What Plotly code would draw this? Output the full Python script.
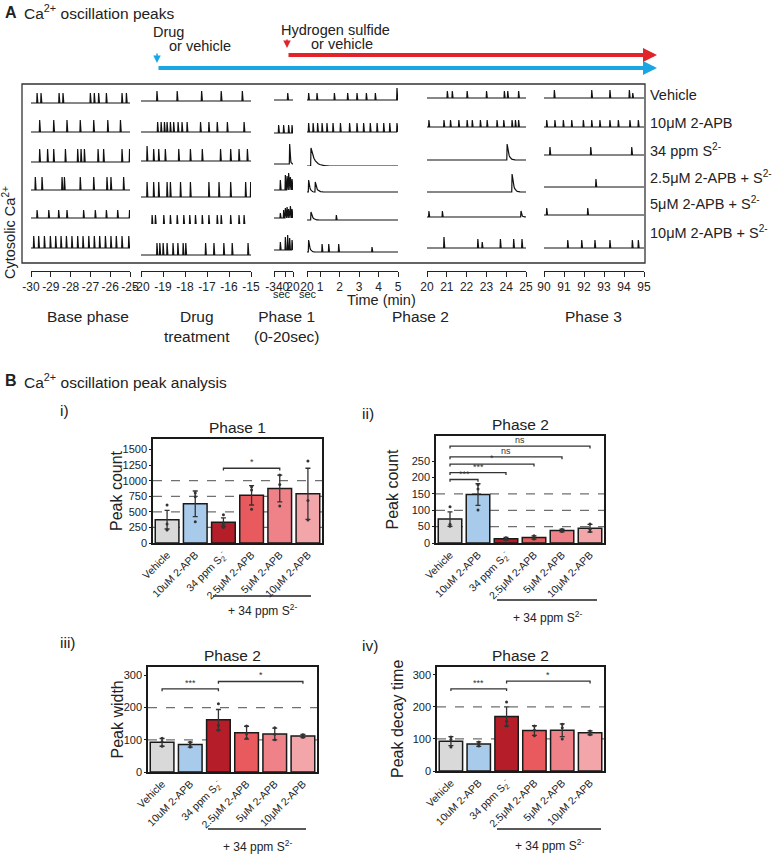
"""Ca2+ oscillation peaks: spike traces per phase (A) and peak analysis bars (B)."""

import math

import plotly.graph_objects as go

W, H = 780, 854
FONT = "Liberation Sans, Arial, sans-serif"

# ---------------------------------------------------------------- panel A data
ROW_LABELS = [
    "Vehicle",
    "10μM 2-APB",
    "34 ppm S<sup>2-</sup>",
    "2.5μM 2-APB + S<sup>2-</sup>",
    "5μM 2-APB + S<sup>2-</sup>",
    "10μM 2-APB + S<sup>2-</sup>",
]

SEGMENTS = ["base", "drug", "phase1", "phase2", "phase2b", "phase3"]
SEG_RANGES = {
    "base": (-30, -25),
    "drug": (-20, -15),
    "phase1": (-34, 20),       # seconds
    "phase2": (1 / 3, 5),      # 20 sec .. 5 min
    "phase2b": (20, 25),
    "phase3": (90, 95),
}
SEG_TICKVALS = {
    "base": [-30, -29, -28, -27, -26, -25],
    "drug": [-20, -19, -18, -17, -16, -15],
    "phase1": [-34, 0, 20],
    "phase2": [1 / 3, 1, 2, 3, 4, 5],
    "phase2b": [20, 21, 22, 23, 24, 25],
    "phase3": [90, 91, 92, 93, 94, 95],
}
SEG_TICKTEXT = {
    "base": ["-30", "-29", "-28", "-27", "-26", "-25"],
    "drug": ["-20", "-19", "-18", "-17", "-16", "-15"],
    "phase1": ["-34", "0", "20"],
    "phase2": ["20", "1", "2", "3", "4", "5"],
    "phase2b": ["20", "21", "22", "23", "24", "25"],
    "phase3": ["90", "91", "92", "93", "94", "95"],
}

# spike entries: time, or (time, amplitude, decay duration)
SPIKES_BASE = [
    [-29.71, -29.51, -28.60, -28.40, -27.02, -26.82, -26.60, -26.21, -25.42, -25.20],
    [-29.58, -28.87, -28.20, -27.53, -26.85, -26.14, -25.50],
    [-29.58, -29.18, -28.87, -28.28, -27.66, -27.49, -27.32, -26.63, -26.35, -25.42, -25.04],
    [-29.80, -29.46, -28.45, -28.33, -27.53, -26.85, -26.18, -25.98, -25.34],
    [-29.71, -29.12, -28.62, -28.20, -27.36, -26.77, -26.21, -25.64, -25.04],
    [-29.88, -29.63, -29.34, -29.04, -28.77, -28.50, -28.23, -27.95, -27.66,
     -27.39, -27.10, -26.82, -26.55, -26.26, -25.98, -25.71, -25.42, -25.08],
]
SPIKES_DRUG = [
    [-19.29, -18.37, -17.26, -16.37, -15.41],
    [-19.26, -19.10, -18.95, -18.83, -18.68, -18.53, -18.33, -18.15, -17.92,
     -17.31, -16.93, -16.55, -16.09, -15.33],
    [(-19.74, 1.5, 0), -19.44, -19.21, -18.91, -18.30, -17.77, -17.23, -16.40,
     -15.94, -15.56, -15.18],
    [-19.74, -19.44, -19.21, -18.83, -18.68, -18.22, -17.77, -16.93, -16.47,
     -15.94, -15.26, -15.03],
    [-19.51, -19.36, -18.98, -18.68, -18.37, -18.07, -17.80, -17.54, -17.23,
     -16.93, -16.55, -16.37, -15.94, -15.56, -15.33],
    [-19.29, -19.16, -19.01, -18.83, -18.56, -18.34, -18.10, -17.98, -17.08,
     -16.70, -16.25, -15.87, -15.15],
]
SPIKES_PHASE1 = [
    [(4.0, 0.7, 0)],
    [-21.8, -7.6, 6.6, 16.3],
    [(9.5, 2.0, 8.0)],
    [(-17, 1.0, 0), (-2.7, 1.5, 0), (2.1, 1.4, 0), (6.6, 1.7, 0), (11.5, 1.3, 0), (16.3, 1.1, 0)],
    [(-17, 0.5, 0), (-7.6, 0.8, 0), (-2.7, 1.0, 0), (2.1, 1.1, 0), (6.6, 0.9, 0),
     (11.5, 1.2, 0), (16.3, 0.9, 0)],
    [(-17, 0.8, 0), (-2.7, 1.3, 0), (3.8, 1.5, 0), (9.5, 1.2, 0), (16.3, 1.0, 0)],
]
SPIKES_PHASE2 = [
    [0.40, 0.83, 1.72, 2.40, 2.88, 3.36, 3.82, (4.93, 1.2, 0)],
    [0.40, 0.63, 0.86, 1.09, 1.34, 1.65, 2.03, 2.50, 2.88, 3.22, 3.56, 3.91, 4.25, 4.56, 4.93],
    [(0.52, 1.8, 0.9)],
    [(0.40, 1.2, 0.3), (0.74, 1.0, 0.4)],
    [(0.52, 0.8, 0.4), (1.82, 0.5, 0)],
    [(0.40, 1.2, 0.3), 1.09, 1.43, 1.94, (3.65, 0.5, 0)],
]
SPIKES_PHASE2B = [
    [21.01, 21.26, 22.01, 22.99, 23.89, 24.06, 24.61],
    [20.08, 20.84, 21.17, 21.59, 22.01, 22.27, 22.68, 23.02, 23.52, 23.86, 24.28, 24.45, 24.61],
    [(24.03, 1.6, 0.4)],
    [(24.28, 1.8, 0.4)],
    [20.08, 20.76, (24.73, 0.6, 0.2)],
    [(20.84, 1.1, 0), 22.55, (22.77, 0.6, 0), 23.69, 24.36, 24.78],
]
SPIKES_PHASE3 = [
    [90.50, 92.37, 93.28, 94.25, (94.42, 0.5, 0)],
    [90.12, 90.53, 90.95, 91.37, 91.95, 92.37, 92.78, 93.28, 93.70, 94.28, 94.70],
    [90.28, 92.32, 94.37],
    [92.58],
    [90.12, 92.17],
    [91.17, 91.87, 92.53, 93.28, 94.40, 94.70],
]
SPIKES = {
    "base": SPIKES_BASE, "drug": SPIKES_DRUG, "phase1": SPIKES_PHASE1,
    "phase2": SPIKES_PHASE2, "phase2b": SPIKES_PHASE2B, "phase3": SPIKES_PHASE3,
}
# default spike amplitude per segment and row (dF, arbitrary units)
SPIKE_AMP = {
    "base": [1.0, 1.2, 1.3, 1.3, 0.8, 1.2],
    "drug": [1.0, 1.0, 1.2, 1.5, 1.0, 1.2],
    "phase1": [1.0, 0.8, 2.0, 1.4, 1.0, 1.2],
    "phase2": [0.7, 0.9, 1.8, 1.2, 0.6, 0.8],
    "phase2b": [0.7, 0.7, 1.6, 1.8, 0.6, 0.9],
    "phase3": [0.8, 0.7, 0.8, 0.8, 0.7, 0.8],
}
# baseline level per segment and row
BASELINE = {
    "base": [0, 0, 0, 0, 0, 0],
    "drug": [0.2, 0, 0.1, -0.7, -0.7, -0.7],
    "phase1": [0.3, -0.1, -0.2, 0, 0, -0.2],
    "phase2": [0.3, 0, -0.4, -0.2, -0.2, -0.4],
    "phase2b": [0.5, 0.5, 0.2, -0.2, 0.1, 0],
    "phase3": [0.5, 0.5, 0.7, 0.3, 0.3, 0],
}

# ---------------------------------------------------------------- panel B data
CATEGORIES = ["Vehicle", "10uM 2-APB", "34 ppm S<sub>2</sub><sup>-</sup>",
              "2.5μM 2-APB", "5μM 2-APB", "10μM 2-APB"]
BAR_COLORS = ["#d9d9d9", "#a8cbeb", "#b51d29", "#e85a5d", "#ef8189", "#f3a6aa"]

P1_COUNT = [375, 630, 335, 765, 875, 790]
P1_COUNT_SD = [150, 205, 70, 155, 215, 410]
P1_COUNT_PTS = [[610, 306, 209], [343, 744, 803], [250, 300, 455],
                [540, 850, 905], [594, 939, 1092], [369, 684, 1317]]
P1_BRACKETS = [(2, 4, 1200, "*")]

P2_COUNT = [73, 148, 13, 17, 38, 45]
P2_COUNT_SD = [22, 33, 4, 5, 4, 12]
P2_COUNT_PTS = [[51, 57, 111], [101, 165, 178], [10, 13, 16],
                [12, 17, 22], [35, 38, 41], [35, 42, 58]]
P2_BRACKETS = [(0, 1, 194, "***"), (0, 2, 215, "***"), (0, 3, 241, "*"),
               (0, 4, 263, "ns"), (0, 5, 296, "ns")]

P2_WIDTH = [92, 85, 162, 122, 118, 112]
P2_WIDTH_SD = [12, 8, 32, 20, 18, 5]
P2_WIDTH_PTS = [[80, 95, 105], [78, 85, 92], [130, 145, 212],
                [105, 118, 143], [100, 117, 137], [108, 112, 116]]
P2_WIDTH_BRACKETS = [(0, 2, 258, "***"), (2, 5, 281, "*")]

P2_DECAY = [93, 84, 170, 126, 127, 119]
P2_DECAY_SD = [14, 7, 30, 15, 20, 6]
P2_DECAY_PTS = [[75, 98, 106], [78, 84, 90], [140, 155, 215],
                [110, 128, 140], [100, 135, 146], [113, 119, 125]]
P2_DECAY_BRACKETS = [(0, 2, 256, "***"), (2, 5, 280, "*")]


def fx(p):
    return p / W


def fy(p):
    return 1 - p / H


# pixel layout of panel A
SEG_DOMAIN_PX = {
    "base": (31, 130), "drug": (141, 251), "phase1": (274, 293),
    "phase2": (307, 398), "phase2b": (427, 526), "phase3": (544, 644),
}
ROW_BASE_PX = [103, 132, 162, 190, 218, 248]
ROW_RANGE = (-0.8, 2.4)   # 10 px per unit
AXIS_LINE_PX = 271


def trace_xy(spikes, amp0, base, t0, t1, unit):
    xs, ys = [t0], [base]
    for s in spikes:
        t, a, decay = s if isinstance(s, tuple) else (s, amp0, 0)
        xs += [t, t + 0.35 * unit]
        ys += [base, base + a]
        if decay:
            for k in range(1, 13):
                xs.append(t + 0.35 * unit + decay * k / 12)
                ys.append(base + a * math.exp(-5.0 * k / 12))
        else:
            xs.append(t + 1.1 * unit)
            ys.append(base)
    xs.append(t1)
    ys.append(base)
    return xs, ys


fig = go.Figure()
layout = {}

for si, seg in enumerate(SEGMENTS):
    t0, t1 = SEG_RANGES[seg]
    d0, d1 = SEG_DOMAIN_PX[seg]
    unit = (t1 - t0) / (d1 - d0)
    xname = "x" if si == 0 else f"x{si + 1}"
    for ri in range(6):
        xs, ys = trace_xy(SPIKES[seg][ri], SPIKE_AMP[seg][ri], BASELINE[seg][ri], t0, t1, unit)
        fig.add_trace(go.Scatter(
            x=xs, y=ys, mode="lines",
            line=dict(color="#111111", width=1.2),
            xaxis=xname, yaxis="y" if ri == 0 else f"y{ri + 1}",
            showlegend=False, hoverinfo="skip",
        ))
    layout["xaxis" if si == 0 else f"xaxis{si + 1}"] = dict(
        domain=[fx(d0), fx(d1)], range=[t0, t1], anchor="free", position=fy(AXIS_LINE_PX),
        tickvals=SEG_TICKVALS[seg], ticktext=SEG_TICKTEXT[seg], tickangle=0,
        ticks="outside", ticklen=5, tickwidth=1, tickcolor="#222",
        showline=True, linecolor="#222", linewidth=1, automargin=False,
        showgrid=False, zeroline=False, fixedrange=True,
        tickfont=dict(size=12, color="#222"),
    )

for ri, b in enumerate(ROW_BASE_PX):
    lo, hi = ROW_RANGE
    layout["yaxis" if ri == 0 else f"yaxis{ri + 1}"] = dict(
        domain=[fy(b - lo * 10), fy(b - hi * 10)], range=[lo, hi],
        anchor="free", position=0, visible=False, fixedrange=True, automargin=False,
    )

shapes = [dict(type="rect", xref="paper", yref="paper", x0=fx(22), x1=fx(645),
               y0=fy(263), y1=fy(84), line=dict(color="#333", width=1.3))]
annotations = []


def text(x, y, s, size, xanchor="left", yanchor="middle", **kw):
    annotations.append(dict(xref="paper", yref="paper", x=fx(x), y=fy(y), text=s,
                            showarrow=False, xanchor=xanchor, yanchor=yanchor,
                            font=dict(size=size, color="#222", family=FONT), **kw))


text(3, 12, "<b>A</b>", 16)
text(22, 12, "Ca<sup>2+</sup> oscillation peaks", 15.5)
text(151, 32, "Drug", 14.5)
text(167, 46, "or vehicle", 14.5)
text(279, 30, "Hydrogen sulfide", 14.5)
text(309, 44, "or vehicle", 14.5)

# treatment arrows
for (x0, y0, color) in [(157, 68, "#19a6e3"), (287, 55, "#e2242a")]:
    annotations.append(dict(xref="paper", yref="paper", x=fx(657), y=fy(y0), ax=x0 - 657, ay=0,
                            axref="pixel", ayref="pixel", text="", showarrow=True,
                            arrowhead=2, arrowsize=0.7, arrowwidth=4, arrowcolor=color))
for (x0, y0, y1, color) in [(157, 52, 63, "#19a6e3"), (287, 38, 48, "#e2242a")]:
    annotations.append(dict(xref="paper", yref="paper", x=fx(x0), y=fy(y1), ax=0, ay=y0 - y1,
                            text="", showarrow=True, arrowhead=2, arrowsize=1,
                            arrowwidth=1.5, arrowcolor=color))

for lab, y in zip(ROW_LABELS, [95, 123, 150, 177, 203, 232]):
    text(648, y, lab, 14.5)

text(9, 233, "Cytosolic Ca<sup>2+</sup>", 14.5, xanchor="center", textangle=-90)
text(282, 294, "sec", 11, xanchor="center")
text(308, 294, "sec", 11, xanchor="center")
text(381, 300, "Time (min)", 14.5, xanchor="center")
text(88, 316, "Base phase", 15.5, xanchor="center")
text(197, 326, "Drug<br>treatment", 15.5, xanchor="center")
text(286, 326, "Phase 1<br>(0-20sec)", 15.5, xanchor="center")
text(420, 316, "Phase 2", 15.5, xanchor="center")
text(593, 316, "Phase 3", 15.5, xanchor="center")

# ---------------------------------------------------------------- panel B
text(3, 381, "<b>B</b>", 16)
text(22, 381, "Ca<sup>2+</sup> oscillation peak analysis", 15.5)

PANELS = [
    dict(tag="i)", tag_xy=(58, 410), title="Phase 1", ytitle="Peak count",
         box=(153, 322, 439, 543), ymax=1670, yticks=[0, 250, 500, 750, 1000, 1250, 1500],
         dashes=[250, 500, 750, 1000], mean=P1_COUNT, sd=P1_COUNT_SD, pts=P1_COUNT_PTS,
         brackets=P1_BRACKETS, ytitle_x=116, rule=(213, 311, 596), rule_label_y=610),
    dict(tag="ii)", tag_xy=(360, 413), title="Phase 2", ytitle="Peak count",
         box=(436, 604, 436, 543), ymax=327, yticks=[0, 50, 100, 150, 200, 250],
         dashes=[50, 100, 150], mean=P2_COUNT, sd=P2_COUNT_SD, pts=P2_COUNT_PTS,
         brackets=P2_BRACKETS, ytitle_x=392, rule=(497, 597, 600), rule_label_y=617),
    dict(tag="iii)", tag_xy=(58, 642), title="Phase 2", ytitle="Peak width",
         box=(148, 317, 667, 772), ymax=326, yticks=[0, 100, 200, 300],
         dashes=[100, 200], mean=P2_WIDTH, sd=P2_WIDTH_SD, pts=P2_WIDTH_PTS,
         brackets=P2_WIDTH_BRACKETS, ytitle_x=117, rule=(208, 306, 829), rule_label_y=846),
    dict(tag="iv)", tag_xy=(360, 645), title="Phase 2", ytitle="Peak decay time",
         box=(437, 604, 667, 771), ymax=324, yticks=[0, 100, 200, 300],
         dashes=[100, 200], mean=P2_DECAY, sd=P2_DECAY_SD, pts=P2_DECAY_PTS,
         brackets=P2_DECAY_BRACKETS, ytitle_x=397, rule=(497, 601, 829), rule_label_y=845),
]

for pi, p in enumerate(PANELS):
    n = 7 + pi
    xa, ya = f"x{n}", f"y{n}"
    x0, x1, y0, y1 = p["box"]
    xs = list(range(len(CATEGORIES)))
    fig.add_trace(go.Bar(
        x=xs, y=p["mean"], width=0.84, xaxis=xa, yaxis=ya,
        marker=dict(color=BAR_COLORS, line=dict(color="#1a1a1a", width=1.5)),
        error_y=dict(type="data", array=p["sd"], color="#333", thickness=1.3, width=2.5),
        showlegend=False, hoverinfo="skip",
    ))
    px_, py_ = [], []
    for i, vals in enumerate(p["pts"]):
        px_ += [i] * len(vals)
        py_ += vals
    fig.add_trace(go.Scatter(x=px_, y=py_, mode="markers", xaxis=xa, yaxis=ya,
                             marker=dict(size=3, color="#333"), showlegend=False,
                             hoverinfo="skip"))
    drop = p["ymax"] * 0.022
    for (a, b, h, lab) in p["brackets"]:
        fig.add_trace(go.Scatter(x=[a, a, b, b], y=[h - drop, h, h, h - drop], mode="lines",
                                 xaxis=xa, yaxis=ya, line=dict(color="#333", width=1.3),
                                 showlegend=False, hoverinfo="skip"))
        annotations.append(dict(xref=xa, yref=ya, x=(a + b) / 2, y=h, text=lab,
                                showarrow=False, yanchor="bottom", yshift=-1,
                                font=dict(size=9, color="#333", family=FONT)))
    for d in p["dashes"]:
        shapes.append(dict(type="line", xref=f"{xa} domain", yref=ya, x0=0, x1=1, y0=d, y1=d,
                           layer="below", line=dict(color="#707070", width=1.3, dash="dash")))
    layout[f"xaxis{n}"] = dict(
        domain=[fx(x0), fx(x1)], anchor=ya, range=[-0.5, 5.5],
        tickvals=xs, ticktext=CATEGORIES, tickangle=-45, ticks="",
        tickfont=dict(size=10.5, color="#222"), automargin=False,
        showline=True, mirror=True, linecolor="#1a1a1a", linewidth=1.5,
        showgrid=False, zeroline=False, fixedrange=True,
    )
    layout[f"yaxis{n}"] = dict(
        domain=[fy(y1), fy(y0)], anchor=xa, range=[0, p["ymax"]],
        tickvals=p["yticks"], ticks="outside", ticklen=2, tickcolor="#1a1a1a",
        tickfont=dict(size=11, color="#222"), automargin=False,
        showline=True, mirror=True, linecolor="#1a1a1a", linewidth=1.5,
        showgrid=False, zeroline=False, fixedrange=True,
    )
    text((x0 + x1) / 2, y0 - 12, p["title"], 15.5, xanchor="center")
    text(p["ytitle_x"], (y0 + y1) / 2, p["ytitle"], 16, xanchor="center", textangle=-90)
    text(p["tag_xy"][0], p["tag_xy"][1], p["tag"], 15.5)
    rx0, rx1, ry = p["rule"]
    shapes.append(dict(type="line", xref="paper", yref="paper", x0=fx(rx0), x1=fx(rx1),
                       y0=fy(ry), y1=fy(ry), line=dict(color="#222", width=1.3)))
    text((rx0 + rx1) / 2, p["rule_label_y"], "+ 34 ppm S<sup>2-</sup>", 12, xanchor="center")

fig.update_layout(
    width=W, height=H,
    margin=dict(l=0, r=0, t=0, b=0, autoexpand=False),
    paper_bgcolor="white", plot_bgcolor="white",
    font=dict(family=FONT, color="#222"),
    shapes=shapes, annotations=annotations,
    **layout,
)

# the page body has a default 8px margin; drop it so the figure fills the window
fig.write_html("out.html", config={"displayModeBar": False},
               post_script="document.body.style.margin='0';")
